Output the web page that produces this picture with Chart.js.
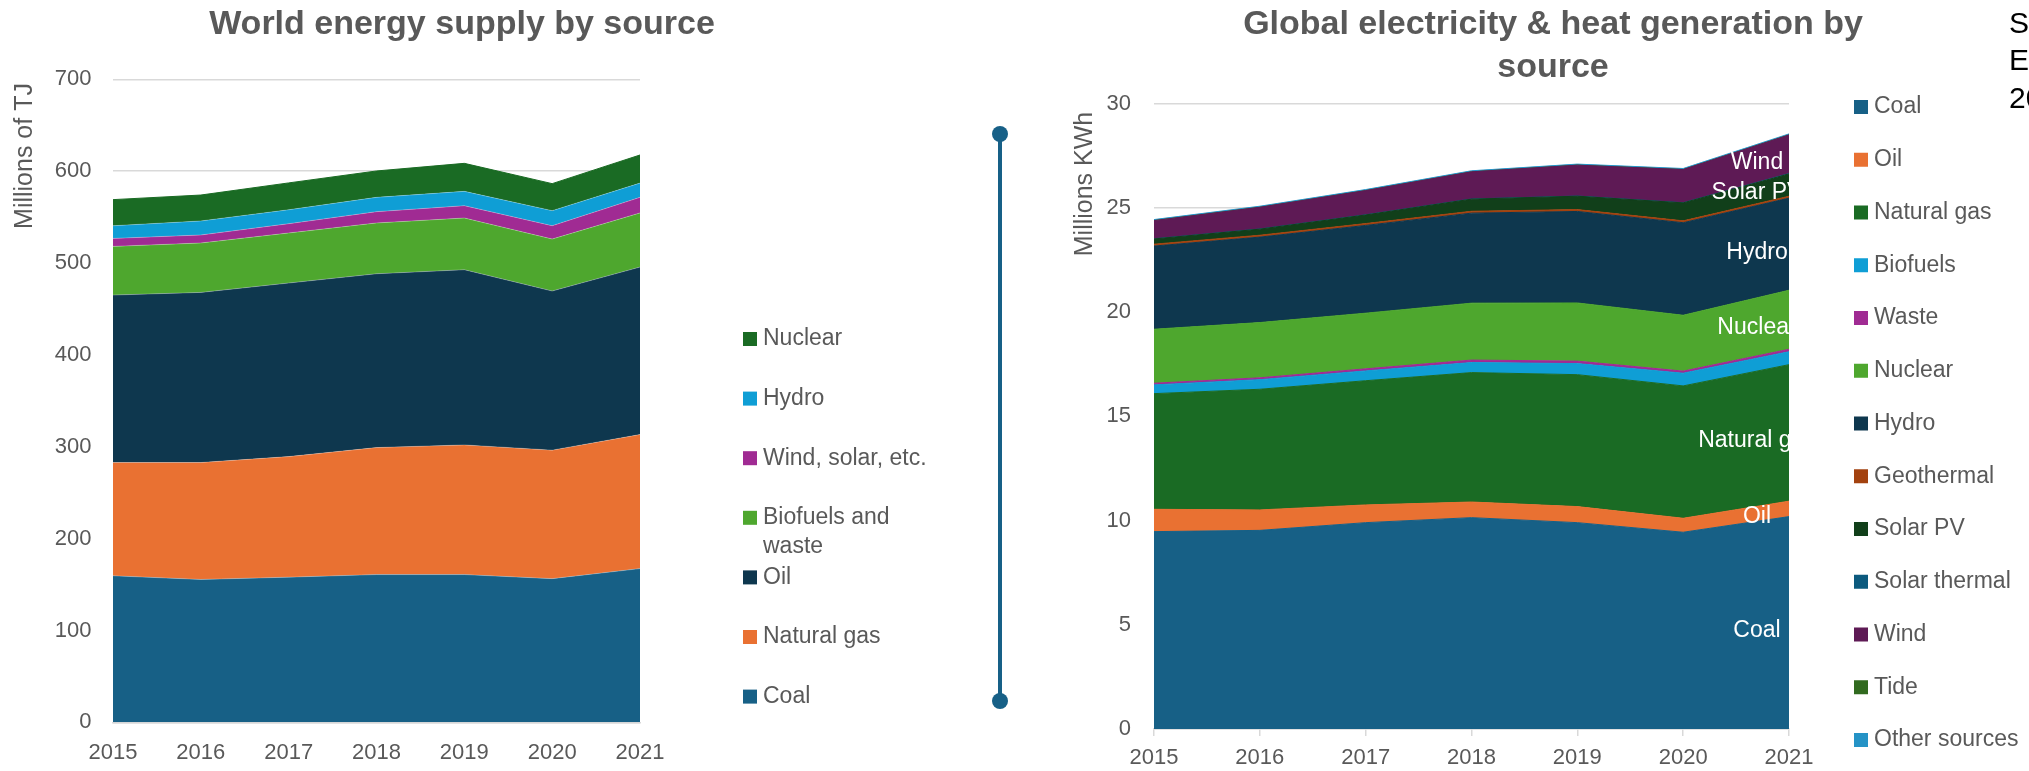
<!DOCTYPE html>
<html>
<head>
<meta charset="utf-8">
<script src="https://cdn.jsdelivr.net/npm/chart.js@4.4.1/dist/chart.umd.min.js"></script>
<style>
html,body{margin:0;padding:0;background:#fff;overflow:hidden;width:2029px;height:771px;}
#c1{position:absolute;left:0;top:0;}
#c2{position:absolute;left:1000px;top:0;}
#divider{position:absolute;left:0;top:0;pointer-events:none;}
</style>
</head>
<body>
<canvas id="c1" width="1000" height="771"></canvas>
<canvas id="c2" width="1029" height="771"></canvas>
<svg id="divider" width="2029" height="771">
  <line x1="1000" y1="134" x2="1000" y2="701" stroke="#176087" stroke-width="4"/>
  <circle cx="1000" cy="134" r="8" fill="#176087"/>
  <circle cx="1000" cy="701" r="8" fill="#176087"/>
</svg>
<script>
// ---------- Data ----------
const years = ['2015', '2016', '2017', '2018', '2019', '2020', '2021'];

// World energy supply by source (millions of TJ)
const supplyCoal       = [159.5, 155.5, 158.0, 160.8, 160.8, 156.4, 167.3];
const supplyNaturalGas = [123.3, 127.3, 131.3, 138.3, 141.2, 139.9, 146.0];
const supplyOil        = [182.3, 185.2, 188.9, 189.2, 190.7, 173.2, 182.3];
const supplyBiofuels   = [53.0, 53.8, 54.5, 55.3, 56.3, 56.6, 58.9];
const supplyWindSolar  = [8.7, 8.7, 10.1, 12.3, 13.4, 14.5, 17.0];
const supplyHydro      = [13.8, 15.3, 15.2, 15.6, 15.6, 16.4, 15.5];
const supplyNuclear    = [28.4, 28.2, 29.2, 28.7, 30.5, 29.4, 30.6];
const supplyTicks      = [0, 100, 200, 300, 400, 500, 600, 700];

// Global electricity & heat generation by source (millions KWh)
const elecCoal         = [9.47, 9.53, 9.90, 10.14, 9.90, 9.44, 10.19];
const elecOil          = [1.07, 0.98, 0.85, 0.75, 0.77, 0.67, 0.74];
const elecNaturalGas   = [5.55, 5.79, 5.96, 6.21, 6.33, 6.35, 6.55];
const elecBiofuels     = [0.42, 0.46, 0.47, 0.48, 0.53, 0.61, 0.62];
const elecWaste        = [0.08, 0.09, 0.10, 0.12, 0.12, 0.10, 0.12];
const elecNuclear      = [2.59, 2.65, 2.67, 2.73, 2.79, 2.68, 2.83];
const elecHydro        = [3.99, 4.10, 4.21, 4.32, 4.39, 4.44, 4.42];
const elecGeothermal   = [0.09, 0.09, 0.09, 0.09, 0.09, 0.09, 0.09];
const elecSolarPV      = [0.25, 0.29, 0.41, 0.58, 0.64, 0.86, 1.07];
const elecSolarThermal = [0.01, 0.01, 0.01, 0.01, 0.01, 0.01, 0.02];
const elecWind         = [0.87, 1.04, 1.16, 1.30, 1.48, 1.59, 1.85];
const elecTide         = [0.001, 0.001, 0.001, 0.001, 0.001, 0.001, 0.001];
const elecOther        = [0.05, 0.05, 0.05, 0.05, 0.05, 0.05, 0.05];
const elecTicks        = [0, 5, 10, 15, 20, 25, 30];

// ---------- Styling ----------
const TXT = '#595959';
const GRID = '#d9d9d9';
const FONT = '"Liberation Sans", Arial, sans-serif';
const NARROW = '"Liberation Sans Narrow", "Liberation Sans", Arial, sans-serif';
Chart.defaults.font.family = FONT;
Chart.defaults.color = TXT;

function area(label, data, color, idx, border) {
  return {
    label: label,
    data: data,
    backgroundColor: color,
    borderColor: border || color,
    borderWidth: 1,
    pointRadius: 0,
    pointHoverRadius: 0,
    tension: 0,
    fill: idx === 0 ? 'origin' : '-1'
  };
}

// free text drawn on the canvas (titles, axis titles, notes)
const textPlugin = {
  id: 'overlayText',
  afterDraw(chart, args, opts) {
    const ctx = chart.ctx;
    (opts.texts || []).forEach(t => {
      ctx.save();
      ctx.font = t.font;
      ctx.fillStyle = t.color || TXT;
      ctx.textAlign = t.align || 'center';
      ctx.textBaseline = 'middle';
      ctx.translate(t.x, t.y);
      if (t.rotate) ctx.rotate(t.rotate);
      ctx.fillText(t.text, 0, 0);
      ctx.restore();
    });
  }
};

// legend with square markers, drawn from the datasets
const boxLegend = {
  id: 'boxLegend',
  afterDraw(chart, args, o) {
    const ctx = chart.ctx;
    const ds = chart.data.datasets;
    const order = ds.map((d, i) => i);
    if (o.reverse) order.reverse();
    ctx.save();
    ctx.font = o.font;
    ctx.textBaseline = 'middle';
    ctx.textAlign = 'left';
    order.forEach((di, k) => {
      const d = ds[di];
      const y = o.y0 + k * o.step;
      ctx.fillStyle = d.backgroundColor;
      ctx.fillRect(o.x, y - o.box / 2, o.box, o.box);
      ctx.fillStyle = TXT;
      const words = d.label.split(' ');
      const lines = [];
      let cur = '';
      words.forEach(w => {
        const test = cur ? cur + ' ' + w : w;
        if (cur && ctx.measureText(test).width > o.maxWidth) { lines.push(cur); cur = w; }
        else cur = test;
      });
      lines.push(cur);
      lines.forEach((ln, j) => ctx.fillText(ln, o.x + o.gap, y + j * o.lineStep));
    });
    ctx.restore();
  }
};

// labels inside the bands at the last category
const bandLabels = {
  id: 'bandLabels',
  afterDatasetsDraw(chart, args, o) {
    const ctx = chart.ctx, ca = chart.chartArea;
    ctx.save();
    ctx.beginPath();
    ctx.rect(ca.left, ca.top, ca.right - ca.left, ca.bottom - ca.top);
    ctx.clip();
    ctx.font = o.font;
    ctx.fillStyle = o.color;
    ctx.textAlign = 'center';
    ctx.textBaseline = 'middle';
    chart.data.datasets.forEach((d, i) => {
      if (!o.show.includes(d.label)) return;
      const meta = chart.getDatasetMeta(i);
      const n = meta.data.length - 1;
      const top = meta.data[n].y;
      const bot = i > 0 ? chart.getDatasetMeta(i - 1).data[n].y : chart.scales.y.getPixelForValue(0);
      ctx.fillText(d.label, meta.data[n].x + o.dx, (top + bot) / 2 + o.dy);
    });
    ctx.restore();
  }
};

// ---------- Chart 1: World energy supply ----------
const ch1 = new Chart(document.getElementById('c1'), {
  type: 'line',
  data: {
    labels: years,
    datasets: [
      area('Coal', supplyCoal, '#176086', 0, 'rgba(255,255,255,0.25)'),
      area('Natural gas', supplyNaturalGas, '#e97132', 1, 'rgba(255,255,255,0.25)'),
      area('Oil', supplyOil, '#0e374e', 2, 'rgba(255,255,255,0.25)'),
      area('Biofuels and waste', supplyBiofuels, '#4ea72e', 3, 'rgba(255,255,255,0.25)'),
      area('Wind, solar, etc.', supplyWindSolar, '#a02b93', 4, 'rgba(255,255,255,0.25)'),
      area('Hydro', supplyHydro, '#0f9ed5', 5, 'rgba(255,255,255,0.25)'),
      area('Nuclear', supplyNuclear, '#1a6b24', 6, '#1a6b24')
    ]
  },
  options: {
    responsive: false,
    animation: false,
    devicePixelRatio: 1,
    layout: { padding: { left: 0, top: 79.3, right: 360, bottom: 0 } },
    plugins: {
      legend: { display: false },
      tooltip: { enabled: false },
      overlayText: {
        texts: [
          { text: 'World energy supply by source', x: 462, y: 25, font: 'bold 34px ' + FONT },
          { text: 'Millions of TJ', x: 25, y: 156, font: '25px ' + FONT, rotate: -Math.PI / 2 }
        ]
      },
      boxLegend: { x: 743, y0: 339, step: 59.6, box: 14, gap: 20, font: '23px ' + FONT, maxWidth: 175, lineStep: 29, reverse: true }
    },
    scales: {
      x: {
        offset: false,
        grid: { display: false, drawTicks: false },
        border: { display: true, color: GRID, width: 1.5 },
        ticks: { padding: 17, font: { size: 22 }, color: TXT, maxRotation: 0 },
        afterFit(s) { s.height = 48.7; }
      },
      y: {
        stacked: true,
        min: 0, max: 700,
        afterBuildTicks(s) { s.ticks = supplyTicks.map(v => ({ value: v })); },
        grid: { color: GRID, lineWidth: 1.5, drawTicks: false },
        border: { display: false },
        ticks: { padding: 21.5, font: { size: 22 }, color: TXT },
        afterFit(s) { s.width = 113; }
      }
    }
  },
  plugins: [textPlugin, boxLegend]
});

// ---------- Chart 2: Global electricity & heat generation ----------
const ch2 = new Chart(document.getElementById('c2'), {
  type: 'line',
  data: {
    labels: years,
    datasets: [
      area('Coal', elecCoal, '#176086', 0),
      area('Oil', elecOil, '#e97132', 1),
      area('Natural gas', elecNaturalGas, '#1a6b24', 2),
      area('Biofuels', elecBiofuels, '#0f9ed5', 3),
      area('Waste', elecWaste, '#a02b93', 4),
      area('Nuclear', elecNuclear, '#4ea72e', 5),
      area('Hydro', elecHydro, '#0e374e', 6),
      area('Geothermal', elecGeothermal, '#a3420f', 7),
      area('Solar PV', elecSolarPV, '#113f1a', 8),
      area('Solar thermal', elecSolarThermal, '#0c5a7e', 9),
      area('Wind', elecWind, '#5e1a55', 10),
      area('Tide', elecTide, '#316a1f', 11),
      area('Other sources', elecOther, '#2593c6', 12)
    ]
  },
  options: {
    responsive: false,
    animation: false,
    devicePixelRatio: 1,
    layout: { padding: { left: 0, top: 103.7, right: 240, bottom: 0 } },
    plugins: {
      legend: { display: false },
      tooltip: { enabled: false },
      overlayText: {
        texts: [
          { text: 'Global electricity & heat generation by', x: 553, y: 25, font: 'bold 34px ' + FONT },
          { text: 'source', x: 553, y: 68, font: 'bold 34px ' + FONT },
          { text: 'Millions KWh', x: 85, y: 184, font: '25px ' + FONT, rotate: -Math.PI / 2 },
          { text: 'Source: IEA World', x: 1009, y: 25, font: '30px ' + NARROW, color: '#000000', align: 'left' },
          { text: 'Energy Balances', x: 1009, y: 62, font: '30px ' + NARROW, color: '#000000', align: 'left' },
          { text: '2023', x: 1009, y: 100, font: '30px ' + NARROW, color: '#000000', align: 'left' }
        ]
      },
      boxLegend: { x: 854, y0: 107, step: 52.75, box: 14, gap: 20, font: '23px ' + FONT, maxWidth: 400, lineStep: 29, reverse: false },
      bandLabels: { show: ['Coal', 'Oil', 'Natural gas', 'Nuclear', 'Hydro', 'Solar PV', 'Wind'], font: '23px ' + FONT, color: '#ffffff', dx: -32, dy: 8 }
    },
    scales: {
      x: {
        offset: false,
        grid: { display: true, drawOnChartArea: false, drawTicks: true, tickLength: 7, color: GRID, lineWidth: 1.5 },
        border: { display: true, color: GRID, width: 1.5 },
        ticks: { padding: 9, font: { size: 22 }, color: TXT, maxRotation: 0 },
        afterFit(s) { s.height = 42; }
      },
      y: {
        stacked: true,
        min: 0, max: 30,
        afterBuildTicks(s) { s.ticks = elecTicks.map(v => ({ value: v })); },
        grid: { color: GRID, lineWidth: 1.5, drawTicks: false },
        border: { display: false },
        ticks: { padding: 23, font: { size: 22 }, color: TXT },
        afterFit(s) { s.width = 154; }
      }
    }
  },
  plugins: [textPlugin, boxLegend, bandLabels]
});
</script>
</body>
</html>
